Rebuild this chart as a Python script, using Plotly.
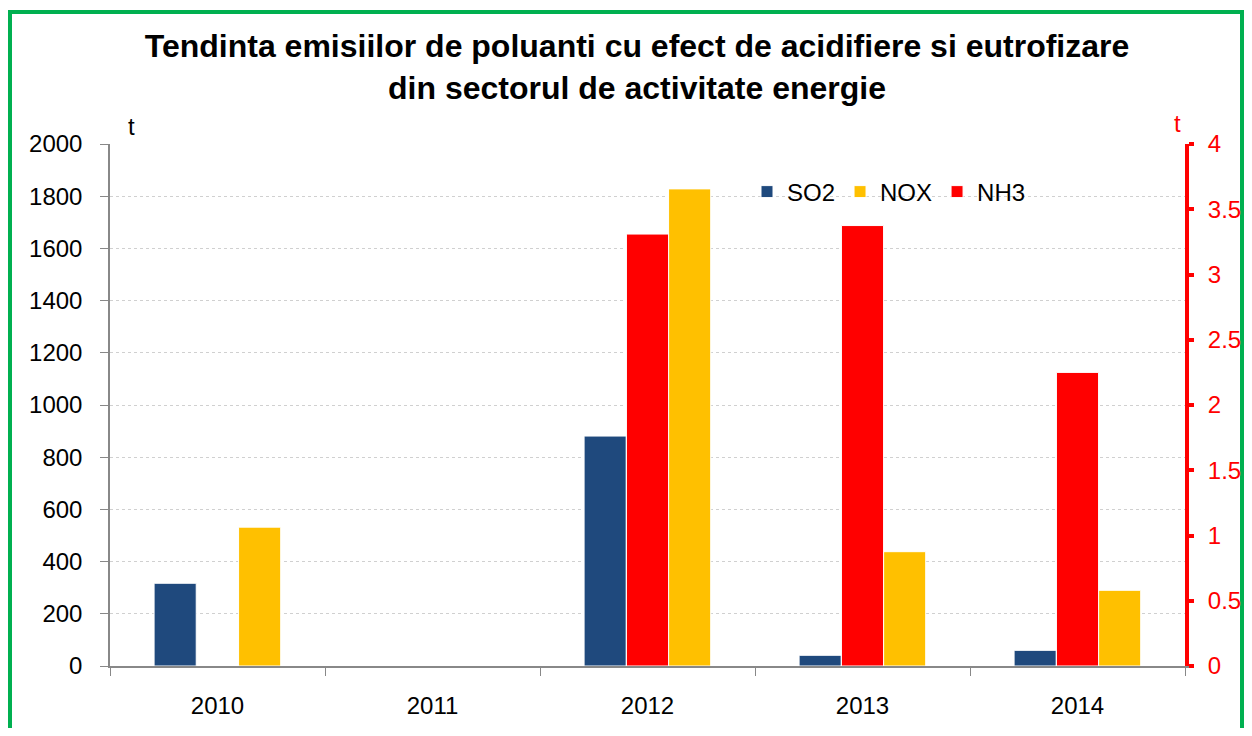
import plotly.graph_objects as go

years = ["2010", "2011", "2012", "2013", "2014"]
so2 = [317, None, 881, 41, 60]
nox = [532, None, 1828, 438, 290]
nh3 = [None, None, 3.31, 3.375, 2.25]

left_ticks = list(range(0, 2001, 200))
right_ticks = [0, 0.5, 1, 1.5, 2, 2.5, 3, 3.5, 4]
right_labels = ["0", "0.5", "1", "1.5", "2", "2.5", "3", "3.5", "4"]

FONT = "Liberation Sans, Arial, sans-serif"
OFF = 8  # page body margin
W, H = 1252 - 2 * OFF, 736 - 2 * OFF
L, T = 110 - OFF, 144 - OFF
R = W - (1185 - OFF)
B = H - (666 - OFF)
pw, ph = W - L - R, H - T - B


def px_x(x):
    return (x - OFF - L) / pw


def px_y(y):
    return (H - B - (y - OFF)) / ph


fig = go.Figure()
bw = 0.196
fig.add_trace(go.Bar(x=years, y=so2, name="SO2", marker=dict(color="#1F497D", line=dict(color="white", width=1)),
                     width=bw, offset=-0.295, yaxis="y"))
fig.add_trace(go.Bar(x=years, y=nox, name="NOX", marker=dict(color="#FFC000", line=dict(color="white", width=1)),
                     width=bw, offset=0.098, yaxis="y"))
fig.add_trace(go.Bar(x=years, y=nh3, name="NH3", marker=dict(color="#FF0000", line=dict(color="white", width=1)),
                     width=bw, offset=-0.098, yaxis="y2"))

fig.update_layout(
    width=W, height=H,
    margin=dict(l=L, r=R, t=T, b=B, autoexpand=False),
    paper_bgcolor="white", plot_bgcolor="white",
    barmode="overlay",
    font=dict(family=FONT, size=24, color="black"),
    title=dict(
        text="<b>Tendinta emisiilor de poluanti cu efect de acidifiere si eutrofizare<br>din sectorul de activitate energie</b>",
        x=(637 - OFF) / W, xanchor="center", xref="container",
        y=1 - 49 / H, yanchor="top", yref="container",
        font=dict(family=FONT, size=32, color="black"),
    ),
    xaxis=dict(
        type="category", range=[-0.5, 4.5],
        showline=True, linecolor="#888888", linewidth=1.5,
        ticks="outside", tickson="boundaries", ticklen=8, tickcolor="#888888",
        tickfont=dict(size=24, color="black"), showgrid=False, zeroline=False,
        ticklabelstandoff=17,
    ),
    yaxis=dict(
        range=[0, 2000], tickvals=left_ticks,
        showline=True, linecolor="#888888", linewidth=1.5,
        ticks="outside", ticklen=8, tickcolor="#888888",
        tickfont=dict(size=24, color="black"),
        showgrid=True, gridcolor="#d0d0d0", griddash="dot", gridwidth=1,
        zeroline=False, ticklabelstandoff=13,
    ),
    yaxis2=dict(
        range=[0, 4], tickvals=right_ticks, ticktext=right_labels,
        overlaying="y", side="right",
        showline=True, linecolor="#FF0000", linewidth=4,
        ticks="outside", ticklen=5, tickwidth=4, tickcolor="#FF0000",
        tickfont=dict(size=24, color="#FF0000"),
        showgrid=False, zeroline=False, ticklabelstandoff=9,
    ),
    legend=dict(
        orientation="h", x=px_x(747), y=px_y(192), xanchor="left", yanchor="middle",
        font=dict(size=24, color="black"), bgcolor="rgba(0,0,0,0)",
        itemwidth=30, tracegroupgap=0,
    ),
    showlegend=True,
)

fig.add_annotation(text="t", x=px_x(131), y=px_y(127), xref="paper", yref="paper",
                   xanchor="center", yanchor="middle",
                   showarrow=False, font=dict(size=24, color="black", family=FONT))
fig.add_annotation(text="t", x=px_x(1177), y=px_y(124), xref="paper", yref="paper",
                   xanchor="center", yanchor="middle",
                   showarrow=False, font=dict(size=24, color="#FF0000", family=FONT))

fig.add_shape(type="rect", xref="paper", yref="paper",
              x0=px_x(10), x1=px_x(1242), y0=px_y(760), y1=px_y(12),
              line=dict(color="#00B050", width=4), fillcolor="rgba(0,0,0,0)", layer="below")

fig.write_html("out.html")
